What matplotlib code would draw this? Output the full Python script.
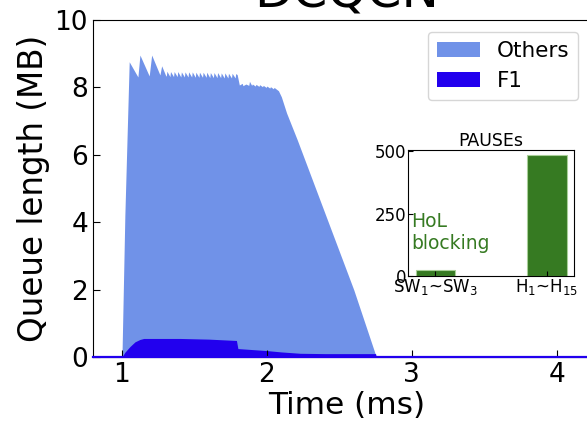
"""DCQCN queue buildup: Others vs F1 queue length, with PAUSE count inset."""
import matplotlib as mpl; mpl.use("Agg")
import matplotlib.pyplot as plt

C_OTH, C_F1, C_GRN = "#7092e8", "#2200ee", "#367a22"

# total queue (Others stacked on F1)
t_tot = [0.80, 1.00, 1.02, 1.05, 1.11, 1.124, 1.188, 1.205, 1.262, 1.274, 1.300,
         1.306, 1.310, 1.331, 1.335, 1.356, 1.360, 1.381, 1.385, 1.406, 1.410,
         1.431, 1.435, 1.456, 1.460, 1.481, 1.485, 1.506, 1.510, 1.531, 1.535,
         1.556, 1.560, 1.581, 1.585, 1.606, 1.610, 1.631, 1.635, 1.656, 1.660,
         1.681, 1.685, 1.706, 1.710, 1.731, 1.735, 1.756, 1.760, 1.781, 1.785,
         1.795, 1.810, 1.830, 1.835, 1.855, 1.875, 1.880, 1.895, 1.900, 1.920,
         1.925, 1.945, 1.950, 1.970, 1.975, 1.995, 2.000, 2.020, 2.025, 2.045,
         2.050, 2.080, 2.100, 2.136, 2.210, 2.600, 2.755, 4.30]
q_tot = [0.00, 0.00, 4.20, 8.76, 8.31, 8.96, 8.34, 8.96, 8.37, 8.64, 8.37,
         8.33, 8.48, 8.32, 8.47, 8.32, 8.47, 8.32, 8.47, 8.31, 8.46,
         8.31, 8.46, 8.31, 8.46, 8.31, 8.46, 8.30, 8.45, 8.30, 8.45,
         8.30, 8.45, 8.30, 8.45, 8.29, 8.44, 8.29, 8.44, 8.29, 8.44,
         8.29, 8.43, 8.28, 8.43, 8.28, 8.42, 8.28, 8.42, 8.28, 8.41,
         8.38, 8.07, 8.12, 8.05, 8.10, 8.06, 8.18, 8.06, 8.10, 8.04,
         8.09, 8.03, 8.08, 8.02, 8.06, 8.00, 8.04, 7.98, 8.02, 7.96,
         8.00, 7.90, 7.72, 7.24, 6.44, 1.99, 0.00, 0.00]

# F1 queue
t_f1 = [0.80, 1.00, 1.02, 1.055, 1.09, 1.124, 1.15, 1.40, 1.60, 1.79, 1.80,
        1.90, 2.00, 2.10, 2.23, 2.40, 2.60, 2.75, 2.755, 4.30]
q_f1 = [0.00, 0.00, 0.14, 0.31, 0.45, 0.52, 0.55, 0.55, 0.53, 0.49, 0.25,
        0.22, 0.19, 0.15, 0.11, 0.10, 0.10, 0.10, 0.00, 0.00]

# inset: PAUSE frames
pause_src = ["SW$_1$~SW$_3$", "H$_1$~H$_{15}$"]
pause_cnt = [24, 484]

fig = plt.figure(figsize=(5.87, 4.28), dpi=100)
ax = fig.add_axes([0.1584, 0.1659, 0.864, 0.7874])
ax.fill_between(t_tot, 0, q_tot, color=C_OTH, lw=0, label="Others")
ax.fill_between(t_f1, 0, q_f1, color=C_F1, lw=0, label="F1")
ax.plot(t_f1, [0]*len(t_f1), color=C_F1, lw=1.6, clip_on=False, zorder=3)
ax.set_xlim(0.8, 4.3); ax.set_ylim(0, 10)
ax.set_xticks([1, 2, 3, 4]); ax.set_yticks([0, 2, 4, 6, 8, 10])
ax.tick_params(direction="in", labelsize=19, length=5)
ax.set_xlabel("Time (ms)", fontsize=22.5, labelpad=2)
ax.set_ylabel("Queue length (MB)", fontsize=23.5, labelpad=3)
ax.set_title("DCQCN", fontsize=36, pad=9)
ax.legend(loc="upper right", bbox_to_anchor=(0.9847, 0.9252), bbox_transform=fig.transFigure,
          borderaxespad=0, fontsize=15.5)

ins = fig.add_axes([0.695, 0.355, 0.283, 0.294])
ins.bar(range(len(pause_cnt)), pause_cnt, width=0.35, color=C_GRN, edgecolor="#a8cf98", lw=0.8)
ins.set_xticks(range(len(pause_src))); ins.set_xticklabels(pause_src)
ins.set_yticks([0, 250, 500]); ins.set_ylim(0, 505)
ins.tick_params(direction="in", labelsize=12, pad=1)
ins.set_title("PAUSEs", fontsize=12.5, pad=3)
ins.text(-0.215, 92, "HoL\nblocking", color=C_GRN, fontsize=13.5, ha="left", va="bottom")

fig.savefig("out.png", dpi=100)
